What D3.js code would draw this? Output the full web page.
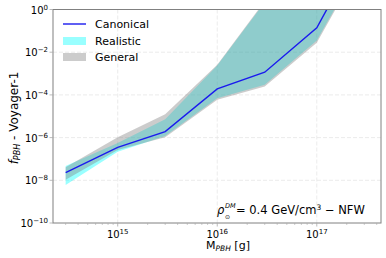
<!DOCTYPE html>
<html>
<head>
<meta charset="utf-8">
<script src="https://cdn.jsdelivr.net/npm/d3@7"></script>
<style>
  body { margin: 0; background: #fff; }
  svg text { font-family: "DejaVu Sans", sans-serif; }
</style>
</head>
<body>
<div id="chart"></div>
<script>
// PBH mass [g]
const masses = [3e14, 1e15, 3e15, 1e16, 3e16, 1e17, 3e17];
// canonical bound
const canonical = [2.3e-8, 3.5e-7, 1.9e-6, 1.9e-4, 1.15e-3, 0.14, 1.6e3];
// realistic band
const realisticLow = [6e-9, 2.2e-7, 1.2e-6, 7e-5, 3e-4, 3.5e-2, 3e2];
const realisticHigh = [4.7e-8, 5.6e-7, 7.2e-6, 2.4e-3, 2.2, 1e3, 1e6];
// general band
const generalLow = [1.05e-8, 2.6e-7, 1.05e-6, 6e-5, 2.5e-4, 2.8e-2, 2.5e2];
const generalHigh = [4.1e-8, 1.05e-6, 1.25e-5, 2.6e-3, 2.5, 1.2e3, 1.2e6];

const xTicks = [1e15, 1e16, 1e17];
const yTicks = [1e0, 1e-2, 1e-4, 1e-6, 1e-8, 1e-10];
const legendItems = ['Canonical', 'Realistic', 'General'];

const width = 386, height = 258;
const margin = {left: 53, right: 5, top: 9.5, bottom: 35};

const svg = d3.select('#chart').append('svg')
    .attr('width', width).attr('height', height);

const x = d3.scaleLog()
    .domain([Math.pow(10, 14.35), Math.pow(10, 17.645)])
    .range([margin.left, width - margin.right]);
const y = d3.scaleLog()
    .domain([1e-10, 1])
    .range([height - margin.bottom, margin.top]);

svg.append('clipPath').attr('id', 'clip')
  .append('rect')
    .attr('x', margin.left).attr('y', margin.top)
    .attr('width', width - margin.left - margin.right)
    .attr('height', height - margin.top - margin.bottom);

// grid
const grid = svg.append('g');
grid.selectAll('.gx').data(xTicks).join('line')
    .attr('x1', d => x(d)).attr('x2', d => x(d))
    .attr('y1', y(1)).attr('y2', y(1e-10))
    .attr('stroke', '#e6e6e6').attr('stroke-dasharray', '4,2').attr('stroke-width', 0.8);
grid.selectAll('.gy').data(yTicks.slice(1, -1)).join('line')
    .attr('y1', d => y(d)).attr('y2', d => y(d))
    .attr('x1', margin.left).attr('x2', width - margin.right)
    .attr('stroke', '#e6e6e6').attr('stroke-dasharray', '4,2').attr('stroke-width', 0.8);

const plot = svg.append('g').attr('clip-path', 'url(#clip)');

function band(lo, hi) {
  return d3.area()
    .x((d, i) => x(masses[i]))
    .y0((d, i) => y(lo[i]))
    .y1((d, i) => y(hi[i]))(masses);
}

plot.append('path').attr('d', band(realisticLow, realisticHigh))
    .attr('fill', 'cyan').attr('fill-opacity', 0.4);
plot.append('path').attr('d', band(generalLow, generalHigh))
    .attr('fill', 'gray').attr('fill-opacity', 0.4);

const line = d3.line()
    .x((d, i) => x(masses[i]))
    .y(d => y(d));
plot.append('path').datum(canonical).attr('d', line)
    .attr('fill', 'none').attr('stroke', '#1a1aee').attr('stroke-width', 1.4);

// frame
svg.append('rect')
    .attr('x', margin.left).attr('y', margin.top)
    .attr('width', width - margin.left - margin.right)
    .attr('height', height - margin.top - margin.bottom)
    .attr('fill', 'none').attr('stroke', '#808080').attr('stroke-width', 1);

// x axis
const xAxis = svg.append('g').attr('transform', `translate(0,${height - margin.bottom})`);
const minorX = [];
for (let e = 14; e <= 17; e++) {
  for (let m = 2; m <= 9; m++) {
    const v = m * Math.pow(10, e);
    if (v > x.domain()[0] && v < x.domain()[1]) minorX.push(v);
  }
}
xAxis.selectAll('.mx').data(minorX).join('line')
    .attr('x1', d => x(d)).attr('x2', d => x(d))
    .attr('y1', 0).attr('y2', 2)
    .attr('stroke', '#aaa').attr('stroke-width', 0.6);
xAxis.selectAll('.tx').data(xTicks).join('line')
    .attr('x1', d => x(d)).attr('x2', d => x(d))
    .attr('y1', 0).attr('y2', 3.5)
    .attr('stroke', '#aaa').attr('stroke-width', 0.8);
const xl = xAxis.selectAll('.lx').data(xTicks).join('text')
    .attr('x', d => x(d)).attr('y', 15)
    .attr('text-anchor', 'middle').attr('font-size', 10).attr('fill', '#000');
xl.append('tspan').text('10');
xl.append('tspan').attr('dy', -4).attr('font-size', 7)
    .text(d => Math.round(Math.log10(d)));

// y axis
const yAxis = svg.append('g').attr('transform', `translate(${margin.left},0)`);
yAxis.selectAll('.ty').data(yTicks).join('line')
    .attr('x1', -3.5).attr('x2', 0)
    .attr('y1', d => y(d)).attr('y2', d => y(d))
    .attr('stroke', '#aaa').attr('stroke-width', 0.8);
const yl = yAxis.selectAll('.ly').data(yTicks).join('text')
    .attr('x', -5).attr('y', d => y(d) + 4)
    .attr('text-anchor', 'end').attr('font-size', 10).attr('fill', '#000');
yl.append('tspan').text('10');
yl.append('tspan').attr('dy', -4).attr('font-size', 7)
    .text(d => {
      const e = Math.round(Math.log10(d));
      return e < 0 ? '\u2212' + (-e) : e;
    });

// axis labels
const xt = svg.append('text')
    .attr('x', 228).attr('y', 249)
    .attr('text-anchor', 'middle').attr('font-size', 11);
xt.append('tspan').text('M');
xt.append('tspan').attr('font-size', 7.5).attr('font-style', 'italic').attr('dy', 2).text('PBH');
xt.append('tspan').attr('dy', -2).text(' [g]');

const yt = svg.append('text')
    .attr('transform', 'translate(18,118) rotate(-90)')
    .attr('text-anchor', 'middle').attr('font-size', 12);
yt.append('tspan').attr('font-style', 'italic').text('f');
yt.append('tspan').attr('font-size', 8).attr('font-style', 'italic').attr('dy', 2).text('PBH');
yt.append('tspan').attr('dy', -2).text('  - Voyager-1');

// legend
const legend = svg.append('g');
const legendY = [24, 41, 57];
legend.append('line')
    .attr('x1', 63).attr('x2', 86).attr('y1', legendY[0]).attr('y2', legendY[0])
    .attr('stroke', '#1a1aee').attr('stroke-width', 1.4);
legend.append('rect')
    .attr('x', 63).attr('y', legendY[1] - 4).attr('width', 23).attr('height', 8)
    .attr('fill', 'cyan').attr('fill-opacity', 0.4);
legend.append('rect')
    .attr('x', 63).attr('y', legendY[2] - 4).attr('width', 23).attr('height', 8)
    .attr('fill', 'gray').attr('fill-opacity', 0.4);
legend.selectAll('.lt').data(legendItems).join('text')
    .attr('x', 95).attr('y', (d, i) => legendY[i] + 4)
    .attr('font-size', 11).text(d => d);

// annotation: rho with stacked super/subscript
svg.append('text').attr('x', 217).attr('y', 214).attr('font-size', 11.5)
    .attr('font-style', 'italic').text('\u03c1');
svg.append('text').attr('x', 225).attr('y', 207.5).attr('font-size', 6.5)
    .attr('font-style', 'italic').text('DM');
svg.append('text').attr('x', 225).attr('y', 218.5).attr('font-size', 6)
    .text('\u2299');
const ann = svg.append('text')
    .attr('x', 236).attr('y', 214).attr('font-size', 11.5);
ann.append('tspan').text('= 0.4 GeV/cm');
ann.append('tspan').attr('font-size', 7.5).attr('dy', -4.5).text('3');
ann.append('tspan').attr('dy', 4.5).text(' \u2212  NFW');
</script>
</body>
</html>
